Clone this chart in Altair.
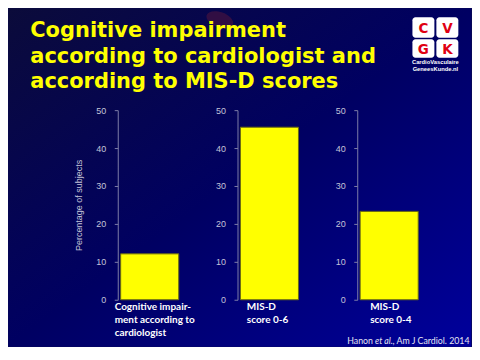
import altair as alt
import pandas as pd

# ---- data ----
categories = ["Cognitive impairment according to cardiologist", "MIS-D score 0-6", "MIS-D score 0-4"]
label_lines = [["Cognitive impair-", "ment according to", "cardiologist"],
               ["MIS-D", "score 0-6"],
               ["MIS-D", "score 0-4"]]
values = [12.1, 45.5, 23.3]
y_ticks = [0, 10, 20, 30, 40, 50]
y_title = "Percentage of subjects"
title_lines = ["Cognitive impairment", "according to cardiologist and", "according to MIS-D scores"]
logo_letters = ["C", "V", "G", "K"]
logo_text = ["CardioVasculaire", "GeneesKunde.nl"]
cite_parts = ["Hanon ", "et al.", ", Am J Cardiol. 2014"]

# ---- layout (screen pixels) ----
P1X, P1Y = 117.7, 110.0
PW, PH = 64, 190
SPACING = 56
RIGHT, BOTTOM = 472, 347


def X(sx):
    return sx - P1X


def Y(sy):
    return sy - P1Y


one = pd.DataFrame({"a": [0]})

AXIS_COL = "#7c7ca8"
LABEL_COL = "#c4c4d8"


def panel(i, label_dx, with_title, extra=None):
    df = pd.DataFrame({"cat": [categories[i]], "value": [values[i]], "label": [label_lines[i]]})
    base = alt.Chart(df)
    xsc = alt.Scale(paddingInner=0, paddingOuter=0.05)
    axis = alt.Axis(values=y_ticks, grid=False, domainColor=AXIS_COL, tickColor=AXIS_COL,
                    tickSize=3.5, labelColor=LABEL_COL, labelFont="Liberation Sans",
                    labelFontSize=9, labelPadding=8.5, title=(y_title if with_title else ""),
                    titleColor=LABEL_COL, titleFont="Liberation Sans", titleFontSize=9,
                    titleFontWeight="normal", titlePadding=12, zindex=1)
    bars = base.mark_bar(color="#ffff00", stroke="#6a6a10", strokeWidth=1).encode(
        x=alt.X("cat:N", axis=None, scale=xsc),
        y=alt.Y("value:Q", scale=alt.Scale(domain=[0, 50], nice=False), axis=axis),
    )
    labels = base.mark_text(align="left", baseline="top", color="#ffffff", font="Lato",
                            fontWeight="bold", fontSize=10, lineHeight=13, dx=label_dx).encode(
        x=alt.X("cat:N", bandPosition=0, axis=None, scale=xsc),
        y=alt.value(Y(302.5)),
        text="label",
    )
    layers = []
    if extra:
        layers.extend(extra)
    layers += [bars, labels]
    return alt.layer(*layers).properties(width=PW, height=PH)


# ---- decorations drawn in panel 1 coordinates ----
bg = alt.Chart(one).mark_rect(
    color=alt.Gradient(gradient="linear", x1=0, y1=0, x2=1, y2=1,
                       stops=[alt.GradientStop(color="#0b0b3a", offset=0),
                              alt.GradientStop(color="#000062", offset=0.5),
                              alt.GradientStop(color="#00009c", offset=1)])
).encode(x=alt.value(X(8)), x2=alt.value(X(RIGHT)), y=alt.value(Y(8)), y2=alt.value(Y(BOTTOM)))

blob = alt.Chart(one).mark_point(
    shape="M -1 0 A 1 0.55 0 1 0 1 0 A 1 0.55 0 1 0 -1 0 Z", filled=True,
    color="#3a1042", opacity=0.85, size=784, angle=20
).encode(x=alt.value(X(220)), y=alt.value(Y(19.5)))

title = alt.Chart(one).mark_text(
    text=title_lines, align="left", baseline="alphabetic", color="#ffff00",
    font="DejaVu Sans", fontWeight="bold", fontSize=21, lineHeight=25.8
).encode(x=alt.value(X(30)), y=alt.value(Y(36.7)))

logo_layers = []
sq = [(413, 435, 17, 37.5), (437, 459, 17, 37.5), (413, 435, 39, 57.5), (437, 459, 39, 57.5)]
for (x0, x1, y0, y1), letter in zip(sq, logo_letters):
    logo_layers.append(alt.Chart(one).mark_rect(color="#ffffff", cornerRadius=3).encode(
        x=alt.value(X(x0)), x2=alt.value(X(x1)), y=alt.value(Y(y0)), y2=alt.value(Y(y1))))
    logo_layers.append(alt.Chart(one).mark_text(
        text=letter, align="center", baseline="alphabetic", color="#e00012",
        font="DejaVu Sans", fontWeight="bold", fontSize=13.5).encode(
        x=alt.value(X((x0 + x1) / 2)), y=alt.value(Y((y0 + y1) / 2 + 5))))
for k, t in enumerate(logo_text):
    logo_layers.append(alt.Chart(one).mark_text(
        text=t, align="center", baseline="alphabetic", color="#ffffff",
        font="Liberation Sans", fontWeight="bold", fontSize=5.8).encode(
        x=alt.value(X(436)), y=alt.value(Y(63.5 + 7.5 * k))))

cite_x = [347.7, 375.5, 393.1]
cite_layers = []
for t, cx in zip(cite_parts, cite_x):
    cite_layers.append(alt.Chart(one).mark_text(
        text=t, align="left", baseline="alphabetic", color="#e6e6f2", font="Lato",
        fontSize=8.8, fontStyle=("italic" if t == "et al." else "normal")).encode(
        x=alt.value(X(cx)), y=alt.value(Y(344.5))))

extra = [bg, blob, title] + logo_layers + cite_layers

p1 = panel(0, -6, True, extra)
p2 = panel(1, 6.4, False)
p3 = panel(2, 10, False)

chart = alt.hconcat(p1, p2, p3, spacing=SPACING, bounds="flush").properties(
    padding=0, background="#0a0a50"
).configure_view(strokeWidth=0)

chart.save("out.html", embed_options={"renderer": "svg", "actions": False})
